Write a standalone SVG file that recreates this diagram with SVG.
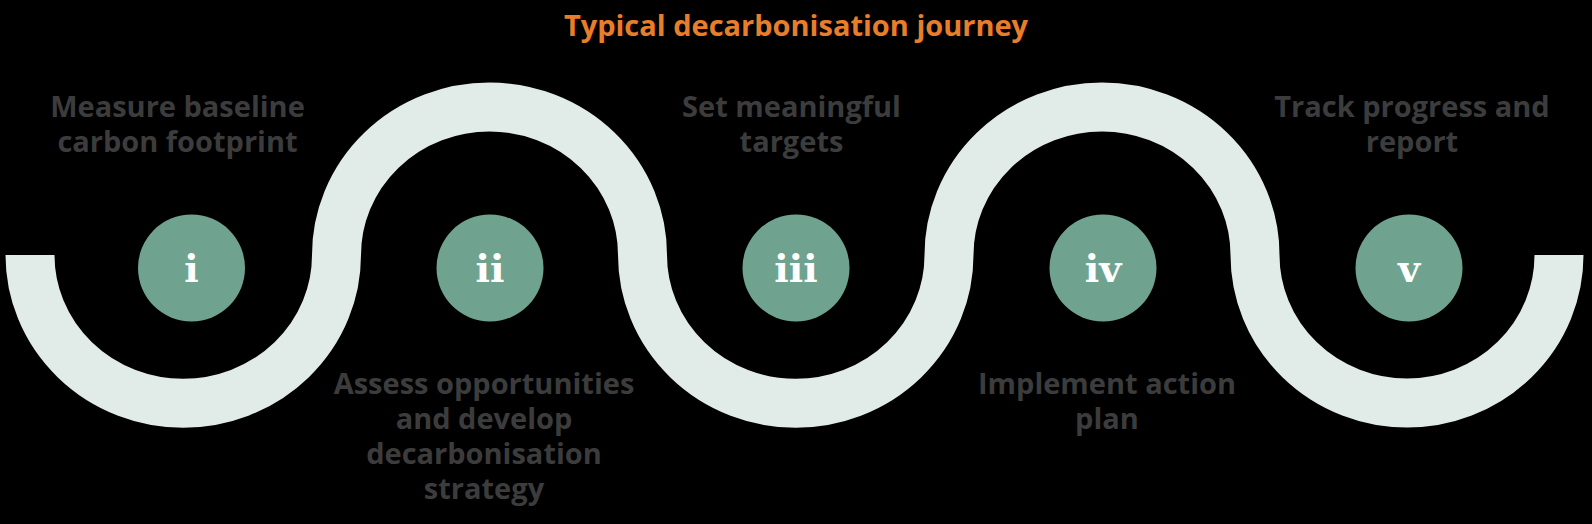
<svg xmlns="http://www.w3.org/2000/svg" width="1592" height="524" viewBox="0 0 1592 524">
<style>
.lbl{font-family:"Open Sans","Liberation Sans",sans-serif;font-weight:700;font-size:29px;fill:#3C3C3C;text-anchor:middle}
.title{font-family:"Open Sans","Liberation Sans",sans-serif;font-weight:700;font-size:29px;fill:#E87D2A;text-anchor:middle}
.num{font-family:"DejaVu Serif","Liberation Serif",serif;font-weight:700;font-size:38px;fill:#FFFFFF;text-anchor:middle}
.dot{fill:#6FA390}
.band{fill:none;stroke:#E1EBE7;stroke-width:49}
</style>
<rect width="1592" height="524" fill="#000000"/>
<text class="title" x="796" y="36">Typical decarbonisation journey</text>
<g id="connectors">
<path class="band" d="M30 255 A153 148 0 0 0 336.5 255 A153 148 0 0 1 642.5 255 A153 148 0 0 0 949 255 A153 148 0 0 1 1255 255 A152 148 0 0 0 1559 255"/>
</g>
<g id="step1">
<circle class="dot" cx="191.5" cy="268" r="53.5"/>
<text class="num" x="191.5" y="282">i</text>
<text class="lbl" x="177.5" y="117"><tspan x="177.5">Measure baseline</tspan><tspan x="177.5" dy="35">carbon footprint</tspan></text>
</g>
<g id="step2">
<circle class="dot" cx="490" cy="268" r="53.5"/>
<text class="num" x="490" y="282">ii</text>
<text class="lbl" x="484" y="394"><tspan x="484">Assess opportunities</tspan><tspan x="484" dy="35">and develop</tspan><tspan x="484" dy="35">decarbonisation</tspan><tspan x="484" dy="35">strategy</tspan></text>
</g>
<g id="step3">
<circle class="dot" cx="796" cy="268" r="53.5"/>
<text class="num" x="796" y="282">iii</text>
<text class="lbl" x="791.5" y="117"><tspan x="791.5">Set meaningful</tspan><tspan x="791.5" dy="35">targets</tspan></text>
</g>
<g id="step4">
<circle class="dot" cx="1103" cy="268" r="53.5"/>
<text class="num" x="1103" y="282">iv</text>
<text class="lbl" x="1107" y="394"><tspan x="1107">Implement action</tspan><tspan x="1107" dy="35">plan</tspan></text>
</g>
<g id="step5">
<circle class="dot" cx="1409" cy="268" r="53.5"/>
<text class="num" x="1409" y="282">v</text>
<text class="lbl" x="1412" y="117"><tspan x="1412">Track progress and</tspan><tspan x="1412" dy="35">report</tspan></text>
</g>
</svg>
